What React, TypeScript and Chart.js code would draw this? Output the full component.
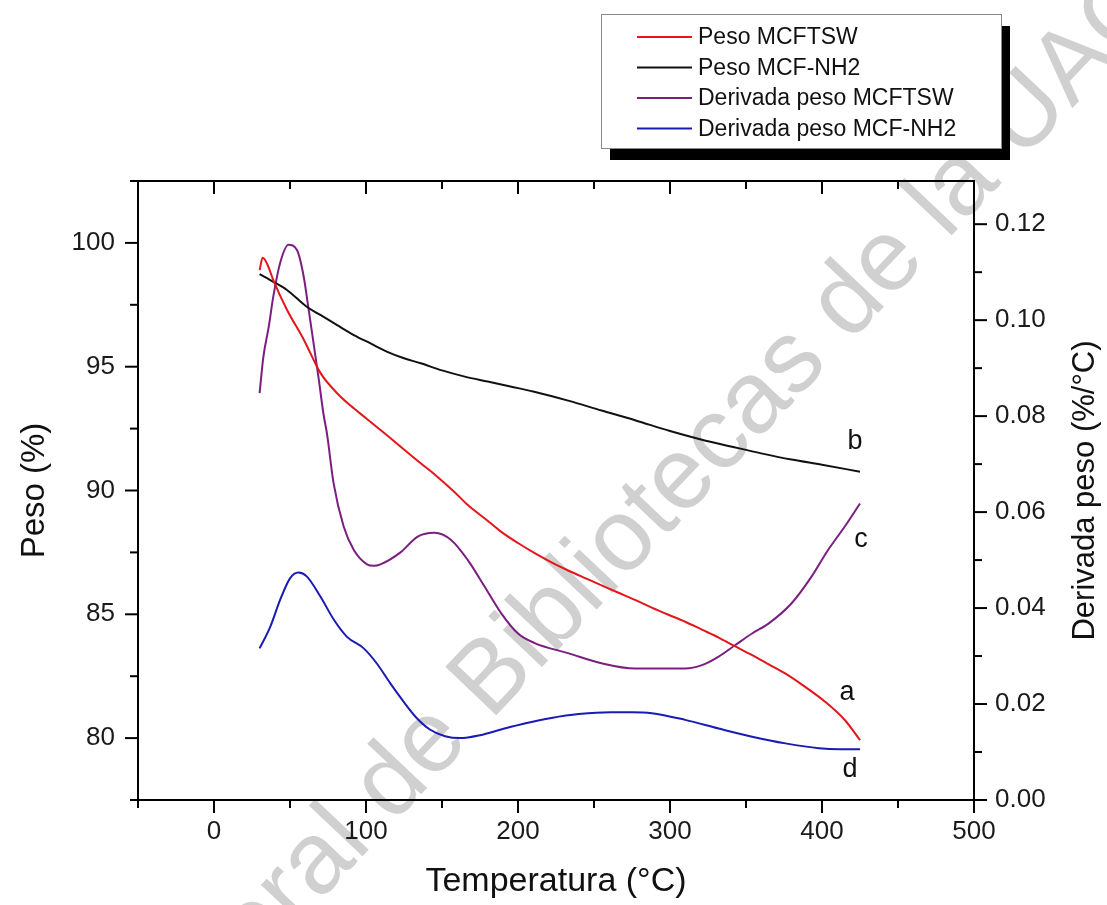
import { useEffect, useRef } from "react";
import { Chart, registerables } from "chart.js";

Chart.register(...registerables);

// Thermogravimetric curves: temperature (°C) vs weight (%) and its derivative (%/°C)
const tempPesoMCFTSW = [30, 32, 35, 39, 48, 59, 70, 81, 90, 100, 114, 123, 136, 145, 158, 167, 180, 189, 200, 211, 222, 233, 245, 255, 265, 277, 288, 299, 310, 321, 332, 343, 355, 365, 376, 387, 402, 415, 425];
const pesoMCFTSW = [98.9, 99.4, 99.15, 98.5, 97.3, 96.1, 94.75, 93.93, 93.42, 92.92, 92.22, 91.76, 91.1, 90.66, 89.95, 89.41, 88.78, 88.33, 87.88, 87.47, 87.1, 86.77, 86.44, 86.17, 85.9, 85.58, 85.27, 84.98, 84.7, 84.38, 84.06, 83.7, 83.32, 82.98, 82.6, 82.15, 81.47, 80.73, 79.92];

const tempPesoMCFNH2 = [30, 39, 48, 61, 70, 81, 92, 103, 114, 125, 136, 150, 165, 180, 195, 210, 233, 255, 277, 300, 321, 340, 360, 380, 400, 425];
const pesoMCFNH2 = [98.74, 98.43, 98.1, 97.42, 97.09, 96.68, 96.28, 95.94, 95.6, 95.34, 95.14, 94.85, 94.6, 94.4, 94.2, 94.0, 93.63, 93.23, 92.84, 92.4, 92.05, 91.78, 91.5, 91.25, 91.04, 90.76];

const tempDerivMCFTSW = [30, 32.5, 36, 39, 43.5, 49, 54.6, 59, 62, 65.5, 69, 72, 74.3, 78.7, 85.3, 92, 100.7, 105, 109.5, 122.7, 134, 145, 156, 167, 178, 189, 200, 211, 233, 255, 277, 299, 310, 321, 332, 343, 354, 365, 380, 393, 404, 415, 425];
const derivMCFTSW = [0.0848, 0.0924, 0.0986, 0.1049, 0.1119, 0.1157, 0.1146, 0.1091, 0.1028, 0.0952, 0.0875, 0.0805, 0.0764, 0.066, 0.057, 0.0521, 0.0491, 0.0488, 0.0491, 0.0516, 0.0549, 0.0557, 0.0542, 0.05, 0.0445, 0.0389, 0.0347, 0.0327, 0.0306, 0.0285, 0.0274, 0.0274, 0.0274, 0.0281, 0.0299, 0.0323, 0.0347, 0.0368, 0.041, 0.0465, 0.0521, 0.057, 0.0618];

const tempDerivMCFNH2 = [30, 37, 43.5, 50, 55.6, 61, 70, 79, 87.5, 98.5, 107, 116, 124, 133, 142, 152, 162, 175, 190, 205, 222, 240, 261, 275, 288, 310, 332, 354, 376, 398, 412, 425];
const derivMCFNH2 = [0.0316, 0.0361, 0.0417, 0.0462, 0.0474, 0.0466, 0.0424, 0.0375, 0.034, 0.0316, 0.0285, 0.0243, 0.0208, 0.0172, 0.0147, 0.0133, 0.0129, 0.0135, 0.0148, 0.016, 0.0171, 0.0179, 0.0183, 0.0183, 0.0181, 0.0167, 0.0149, 0.0132, 0.0118, 0.0108, 0.0106, 0.0106];

const seriesLabels = ["Peso MCFTSW", "Peso MCF-NH2", "Derivada peso MCFTSW", "Derivada peso MCF-NH2"];
const seriesColors = ["#e3161c", "#111111", "#7b1e80", "#1a1ab5"];
const curveTags = ["a", "b", "c", "d"];

const xTitle = "Temperatura (°C)";
const yTitle = "Peso (%)";
const y1Title = "Derivada peso (%/°C)";
const watermarkText = "Dirección General de Bibliotecas de la UAQ";
const watermarkLead = "Dirección General de ";

const FONT = "'Liberation Sans', Arial, Helvetica, sans-serif";

const zip = (xs: number[], ys: number[]) => xs.map((x, i) => ({ x, y: ys[i] }));

// light diagonal watermark behind everything
const watermarkPlugin = {
  id: "watermark",
  beforeDraw(chart: any) {
    const ctx = chart.ctx;
    ctx.save();
    ctx.translate(470, 702);
    ctx.rotate((-46.5 * Math.PI) / 180);
    ctx.font = `102px ${FONT}`;
    ctx.fillStyle = "#d0d0d0";
    ctx.textBaseline = "middle";
    ctx.textAlign = "left";
    const lead = ctx.measureText(watermarkLead).width;
    ctx.fillText(watermarkText, -lead, 0);
    ctx.restore();
  },
};

// closed frame with outward ticks on left/bottom/right and inward ticks on top
const framePlugin = {
  id: "frame",
  afterDraw(chart: any) {
    const { ctx, chartArea } = chart;
    const { left, right, top, bottom } = chartArea;
    const xs = chart.scales.x;
    const ys = chart.scales.y;
    const y1s = chart.scales.y1;
    ctx.save();
    ctx.strokeStyle = "#000";
    ctx.lineWidth = 2;
    ctx.strokeRect(left, top, right - left, bottom - top);
    const line = (a: number, b: number, c: number, d: number) => {
      ctx.beginPath();
      ctx.moveTo(a, b);
      ctx.lineTo(c, d);
      ctx.stroke();
    };
    xs.ticks.forEach((t: any) => {
      if (Math.abs(t.value / 50 - Math.round(t.value / 50)) > 1e-9) return;
      const px = xs.getPixelForValue(t.value);
      const len = t.value % 100 === 0 ? 13 : 8;
      line(px, bottom, px, bottom + len);
      line(px, top, px, top + len);
    });
    ys.ticks.forEach((t: any) => {
      const py = ys.getPixelForValue(t.value);
      const len = t.value % 5 === 0 ? 13 : 8;
      line(left - len, py, left, py);
    });
    y1s.ticks.forEach((t: any) => {
      const k = Math.round(t.value / 0.01);
      if (Math.abs(t.value - k * 0.01) > 1e-9) return;
      const py = y1s.getPixelForValue(t.value);
      const len = k % 2 === 0 ? 13 : 8;
      line(right, py, right + len, py);
    });
    // right axis title reads bottom-to-top
    ctx.fillStyle = "#111";
    ctx.font = `31px ${FONT}`;
    ctx.textAlign = "center";
    ctx.textBaseline = "middle";
    ctx.translate(1085, (top + bottom) / 2);
    ctx.rotate(-Math.PI / 2);
    ctx.fillText(y1Title, 0, 0);
    ctx.restore();
  },
};

// letter tags next to the end of each curve
const tagOffsets = [
  [-13, -48],
  [-5, -30],
  [1, 36],
  [-10, 20],
];
const tagPlugin = {
  id: "curveTags",
  afterDatasetsDraw(chart: any) {
    const ctx = chart.ctx;
    ctx.save();
    ctx.fillStyle = "#111";
    ctx.font = `27px ${FONT}`;
    ctx.textAlign = "center";
    ctx.textBaseline = "middle";
    chart.data.datasets.forEach((_: any, i: number) => {
      const pts = chart.getDatasetMeta(i).data;
      const last = pts[pts.length - 1];
      ctx.fillText(curveTags[i], last.x + tagOffsets[i][0], last.y + tagOffsets[i][1]);
    });
    ctx.restore();
  },
};

// boxed legend with a solid drop shadow
const legendPlugin = {
  id: "shadowLegend",
  afterDraw(chart: any) {
    const ctx = chart.ctx;
    const bx = 601, by = 14, bw = 400, bh = 134;
    ctx.save();
    ctx.fillStyle = "#000";
    ctx.fillRect(bx + 9, by + 12, bw, bh);
    ctx.fillStyle = "#fff";
    ctx.fillRect(bx, by, bw, bh);
    ctx.strokeStyle = "#8a8a8a";
    ctx.lineWidth = 1;
    ctx.strokeRect(bx + 0.5, by + 0.5, bw, bh);
    ctx.font = `23px ${FONT}`;
    ctx.textBaseline = "middle";
    ctx.textAlign = "left";
    chart.data.datasets.forEach((ds: any, i: number) => {
      const yy = by + 23 + i * 30.5;
      ctx.strokeStyle = ds.borderColor;
      ctx.lineWidth = 2;
      ctx.beginPath();
      ctx.moveTo(bx + 36, yy);
      ctx.lineTo(bx + 91, yy);
      ctx.stroke();
      ctx.fillStyle = "#111";
      ctx.fillText(ds.label, bx + 97, yy + 1);
    });
    ctx.restore();
  },
};

export default function App() {
  const canvasRef = useRef<HTMLCanvasElement | null>(null);

  useEffect(() => {
    if (!canvasRef.current) return;
    const series = [
      zip(tempPesoMCFTSW, pesoMCFTSW),
      zip(tempPesoMCFNH2, pesoMCFNH2),
      zip(tempDerivMCFTSW, derivMCFTSW),
      zip(tempDerivMCFNH2, derivMCFNH2),
    ];
    const axisIds = ["y", "y", "y1", "y1"];
    const tickFont = { family: FONT, size: 26 };

    const chart = new Chart(canvasRef.current, {
      type: "line",
      data: {
        datasets: series.map((data, i) => ({
          label: seriesLabels[i],
          data,
          yAxisID: axisIds[i],
          borderColor: seriesColors[i],
          backgroundColor: seriesColors[i],
          borderWidth: 2,
          pointRadius: 0,
          fill: false,
          cubicInterpolationMode: "monotone" as const,
        })),
      },
      options: {
        animation: false,
        responsive: false,
        devicePixelRatio: 1,
        layout: { padding: { top: 181, left: 0, right: 0, bottom: 0 } },
        plugins: { legend: { display: false }, tooltip: { enabled: false } },
        scales: {
          x: {
            type: "linear",
            position: "bottom",
            min: -50,
            max: 500,
            afterFit: (s: any) => {
              s.height = 105;
            },
            grid: { display: false, drawTicks: true, tickLength: 13 },
            border: { display: false },
            ticks: {
              stepSize: 50,
              autoSkip: false,
              maxRotation: 0,
              padding: 3,
              color: "#1a1a1a",
              font: tickFont,
              callback: (v: any) => (Number(v) % 100 === 0 ? String(v) : ""),
            },
            title: {
              display: true,
              text: xTitle,
              color: "#111",
              font: { family: FONT, size: 34 },
              padding: { top: 0, bottom: 3 },
            },
          },
          y: {
            type: "linear",
            position: "left",
            min: 77.5,
            max: 102.5,
            afterFit: (s: any) => {
              s.width = 138;
            },
            grid: { display: false, drawTicks: true, tickLength: 13 },
            border: { display: false },
            ticks: {
              stepSize: 2.5,
              autoSkip: false,
              padding: 10,
              color: "#1a1a1a",
              font: tickFont,
              callback: (v: any) => (Number(v) % 5 === 0 ? String(v) : ""),
            },
            title: {
              display: true,
              text: yTitle,
              color: "#111",
              font: { family: FONT, size: 33 },
              padding: { top: 15, bottom: 0 },
            },
          },
          y1: {
            type: "linear",
            position: "right",
            min: 0,
            max: 0.129,
            afterFit: (s: any) => {
              s.width = 133;
            },
            grid: { display: false, drawTicks: true, tickLength: 13 },
            border: { display: false },
            ticks: {
              stepSize: 0.01,
              autoSkip: false,
              padding: 8,
              color: "#1a1a1a",
              font: tickFont,
              callback: (v: any) => {
                const n = Number(v);
                const k = Math.round(n / 0.01);
                if (Math.abs(n - k * 0.01) > 1e-9) return "";
                return k % 2 === 0 ? (k / 100).toFixed(2) : "";
              },
            },
            title: { display: false },
          },
        },
      },
      plugins: [watermarkPlugin, tagPlugin, framePlugin, legendPlugin],
    });
    return () => chart.destroy();
  }, []);

  return (
    <div style={{ position: "absolute", left: 0, top: 0, width: 1107, height: 905, background: "#fff" }}>
      <canvas ref={canvasRef} width={1107} height={905} />
    </div>
  );
}
